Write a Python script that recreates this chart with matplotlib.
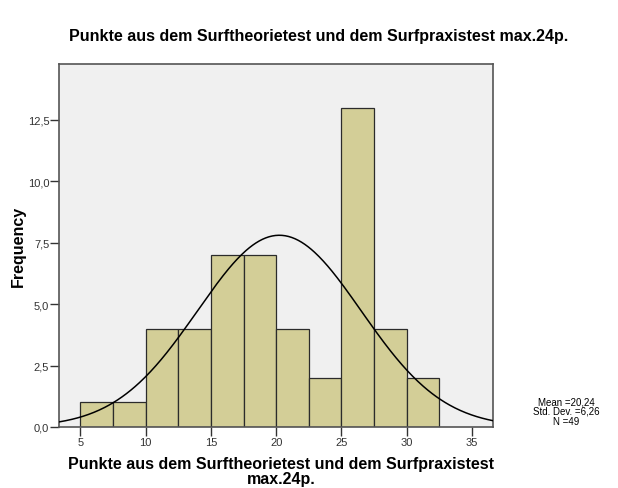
import numpy as np
import matplotlib
matplotlib.use("Agg")
import matplotlib.pyplot as plt

plt.rcParams['font.family'] = ['Liberation Sans', 'DejaVu Sans']

# Data
bin_edges = [5.0, 7.5, 10.0, 12.5, 15.0, 17.5, 20.0, 22.5, 25.0, 27.5, 30.0, 32.5]
counts = [1, 1, 4, 4, 7, 7, 4, 2, 13, 4, 2]
mean = 20.24
std = 6.26
n = 49
xticks = [5, 10, 15, 20, 25, 30, 35]
yticks = [0.0, 2.5, 5.0, 7.5, 10.0, 12.5]
title = "Punkte aus dem Surftheorietest und dem Surfpraxistest max.24p."
xlabel = "Punkte aus dem Surftheorietest und dem Surfpraxistest\nmax.24p."
ylabel = "Frequency"
stats_text = "Mean =20,24\nStd. Dev. =6,26\nN =49"

fig = plt.figure(figsize=(6.18, 4.89), dpi=100)
ax = fig.add_axes([59/618, 1-428/489, (493-59)/618, (428-65)/489])
ax.set_facecolor('#F0F0F0')

lefts = bin_edges[:-1]
widths = np.diff(bin_edges)
ax.bar(lefts, counts, width=widths, align='edge', color='#D3CE97',
       edgecolor='#2b2b2b', linewidth=0.9, zorder=2)

xs = np.linspace(3.37, 36.6, 400)
bw = widths[0]
ys = n * bw / (std * np.sqrt(2 * np.pi)) * np.exp(-0.5 * ((xs - mean) / std) ** 2)
ax.plot(xs, ys, color='black', linewidth=1.1, zorder=3)

ax.set_xlim(3.37, 36.6)
ax.set_ylim(0, 14.78)
ax.set_xticks(xticks)
ax.set_xticklabels([str(t) for t in xticks])
ax.set_yticks(yticks)
ax.set_yticklabels([f"{t:.1f}".replace('.', ',') for t in yticks])
ax.tick_params(axis='both', direction='out', length=6.5, width=1, color='#333333',
               labelsize=8, labelcolor='#333333', pad=0.5)
for s in ax.spines.values():
    s.set_color('#555555')
    s.set_linewidth(1.2)

fig.text(319/618, 1-36/489, title, ha='center', va='center', fontsize=11.5, fontweight='bold')
fig.text(281/618, 1-472/489, xlabel, ha='center', va='center', fontsize=11.5,
         fontweight='bold', linespacing=0.95)
fig.text(18/618, 1-246/489, ylabel, ha='center', va='center', rotation=90,
         fontsize=11.5, fontweight='bold')
fig.text(566/618, 1-412/489, stats_text,
         ha='center', va='center', fontsize=7, linespacing=0.95)

fig.savefig('out.png', dpi=100)
